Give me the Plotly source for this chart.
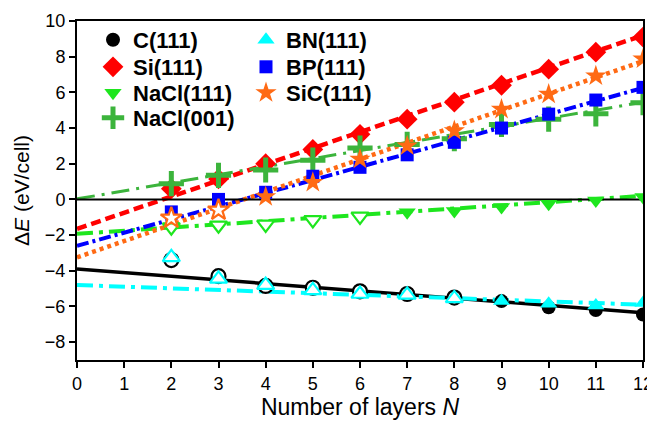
import plotly.graph_objects as go

N = [2, 3, 4, 5, 6, 7, 8, 9, 10, 11, 12]
x_ticks = list(range(0, 13))
y_ticks = [-8, -6, -4, -2, 0, 2, 4, 6, 8, 10]

c111 = [-3.4, -4.3, -4.85, -4.95, -5.15, -5.3, -5.5, -5.7, -6.05, -6.2, -6.45]
bn111 = [-3.25, -4.45, -4.8, -5.1, -5.3, -5.35, -5.55, -5.7, -5.85, -5.95, -5.8]
si111 = [0.6, 1.15, 2.0, 2.8, 3.65, 4.5, 5.45, 6.4, 7.3, 8.25, 9.1]
nacl111 = [-1.55, -1.45, -1.4, -1.15, -0.95, -0.72, -0.65, -0.43, -0.24, -0.06, 0.13]
nacl001 = [0.88, 1.35, 1.65, 2.2, 2.88, 3.08, 3.4, 4.2, 4.5, 4.8, 5.42]
bp111 = [-0.7, 0.0, 0.4, 1.3, 1.8, 2.5, 3.2, 4.0, 4.78, 5.57, 6.28]
sic111 = [-1.05, -0.6, 0.15, 0.95, 2.25, 3.0, 3.85, 5.05, 5.9, 6.92, 7.87]

# number of leading points drawn with open (hollow) markers
open_count = {"C(111)": 7, "BN(111)": 7, "NaCl(111)": 5, "SiC(111)": 2,
              "Si(111)": 0, "BP(111)": 0, "NaCl(001)": 0}

# linear fits, value at N=0 and N=12
fit_x = [0, 12]
fit_c = [-3.9, -6.35]
fit_bn = [-4.8, -5.9]
fit_si = [-1.65, 9.2]
fit_nacl111 = [-1.93, 0.2]
fit_nacl001 = [0.03, 5.45]
fit_bp = [-2.6, 6.25]
fit_sic = [-3.25, 7.75]

series = [
    # name, values, fit, color, symbol, size, line dash, line width
    ("C(111)", c111, fit_c, "#000000", "circle", 14, "solid", 3.5),
    ("Si(111)", si111, fit_si, "#ff0000", "diamond", 16, "10px,5px", 4.5),
    ("NaCl(111)", nacl111, fit_nacl111, "#1ee61e", "triangle-down", 15, "16px,6px,4px,6px", 4),
    ("NaCl(001)", nacl001, fit_nacl001, "#3cb43c", "cross-thin", 18, "18px,7px,3px,7px", 3),
    ("BN(111)", bn111, fit_bn, "#00ffff", "triangle-up", 15, "16px,6px,4px,6px", 4),
    ("BP(111)", bp111, fit_bp, "#0000ff", "square", 13, "12px,4px,3px,4px", 4),
    ("SiC(111)", sic111, fit_sic, "#ff6a14", "star", 16, "4px,4px", 4.5),
]

# page body has an 8px margin, so the figure is 8px smaller and shifted
FIG_W, FIG_H = 647, 415
PLOT_L, PLOT_R, PLOT_T, PLOT_B = 69, 635, 12, 352
legend_px = [(85, 32), (85, 59), (85, 85), (85, 110),
             (238, 32), (238, 59), (238, 85)]

fig = go.Figure()

for name, vals, fit, col, sym, size, dash, lw in series:
    fig.add_trace(go.Scatter(x=fit_x, y=fit, mode="lines", showlegend=False,
                             line=dict(color=col, width=lw, dash=dash), hoverinfo="skip"))

fig.add_trace(go.Scatter(x=[0, 12], y=[0, 0], mode="lines", showlegend=False,
                         line=dict(color="black", width=2), hoverinfo="skip"))

font_fam = "Arial, Liberation Sans, sans-serif"
legends = {}
for i, (name, vals, fit, col, sym, size, dash, lw) in enumerate(series):
    k = open_count[name]
    if k > 0:
        fig.add_trace(go.Scatter(
            x=N[:k], y=vals[:k], mode="markers", showlegend=False,
            marker=dict(symbol=sym, size=size, color="white",
                        line=dict(color=col, width=2.2))))
    if sym == "cross-thin":
        mk = dict(symbol=sym, size=size, color=col, line=dict(color=col, width=5))
    else:
        mk = dict(symbol=sym, size=size, color=col, line=dict(color=col, width=0))
    lname = "legend" if i == 0 else f"legend{i + 1}"
    fig.add_trace(go.Scatter(x=N[k:], y=vals[k:], mode="markers", name=name,
                             legend=lname, marker=mk))
    lx, ly = legend_px[i]
    legends[lname] = dict(
        x=(lx - PLOT_L) / (PLOT_R - PLOT_L), y=(PLOT_B - ly) / (PLOT_B - PLOT_T),
        xanchor="left", yanchor="middle", bgcolor="rgba(0,0,0,0)", borderwidth=0,
        font=dict(family=font_fam, size=22, color="black", weight="bold"),
        itemsizing="trace",
    )

fig.update_layout(
    width=FIG_W, height=FIG_H,
    margin=dict(l=PLOT_L, r=FIG_W - PLOT_R, t=PLOT_T, b=FIG_H - PLOT_B),
    paper_bgcolor="white", plot_bgcolor="white",
    font=dict(family=font_fam, color="black"),
    xaxis=dict(range=[0, 12], tickvals=x_ticks, ticks="outside", ticklen=6, tickwidth=2,
               tickcolor="black", showline=True, linewidth=2, linecolor="black", mirror=True,
               showgrid=False, zeroline=False, tickfont=dict(size=18), automargin=False,
               title=dict(text="Number of layers <i>N</i>", font=dict(size=23), standoff=0)),
    yaxis=dict(range=[-9, 10], tickvals=y_ticks, ticks="outside", ticklen=6, tickwidth=2,
               tickcolor="black", showline=True, linewidth=2, linecolor="black", mirror=True,
               showgrid=False, zeroline=False, tickfont=dict(size=18), automargin=False,
               title=dict(text="Δ<i>E</i> (eV/cell)", font=dict(size=21), standoff=10)),
    **legends,
)

fig.write_html("out.html")
